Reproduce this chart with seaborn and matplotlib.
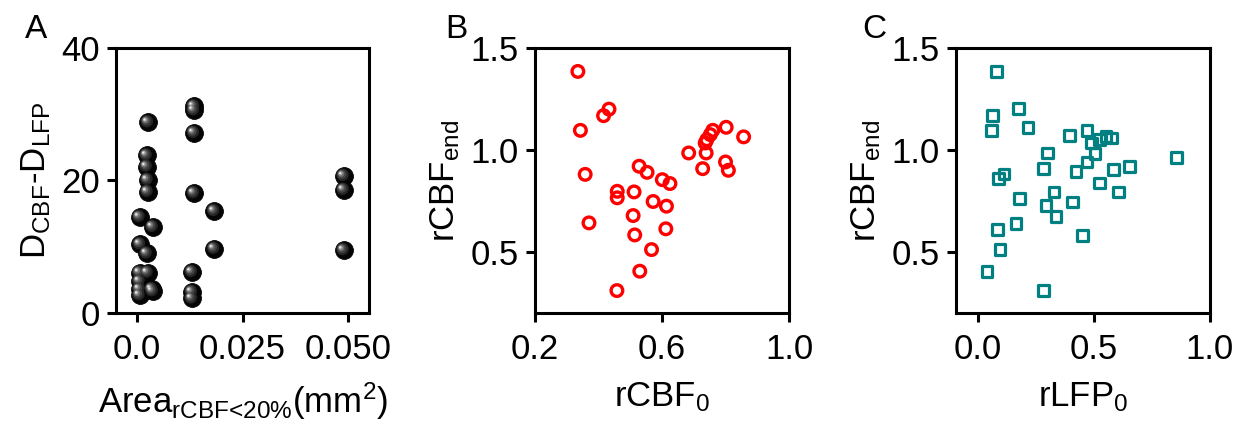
import numpy as np
import pandas as pd
import matplotlib
matplotlib.use("Agg")
import matplotlib.pyplot as plt
from matplotlib.markers import MarkerStyle
from matplotlib.transforms import Affine2D
import seaborn as sns

# ---------------- data ----------------
area_A = [0.0135, 0.0135, 0.0135, 0.0026, 0.0023, 0.0023, 0.0025, 0.0025, 0.0135,
          0.0183, 0.0006, 0.0037, 0.0007, 0.0023, 0.0183, 0.0006, 0.0025, 0.0130,
          0.0006, 0.0006, 0.0006, 0.0035, 0.0037, 0.0130, 0.0130, 0.0490, 0.0490, 0.0490]
ddiff_A = [31.2, 30.6, 27.2, 28.8, 23.8, 22.1, 20.1, 18.3, 18.1,
           15.4, 14.5, 13.0, 10.4, 9.0, 9.7, 6.1, 6.1, 6.2,
           4.8, 3.6, 2.7, 3.6, 3.3, 3.2, 2.2, 20.7, 18.6, 9.5]

rcbf0_B = [0.335, 0.433, 0.416, 0.343, 0.358, 0.370, 0.459, 0.459, 0.512, 0.528,
           0.553, 0.601, 0.625, 0.572, 0.614, 0.509, 0.514, 0.612, 0.567, 0.530,
           0.458, 0.684, 0.728, 0.739, 0.736, 0.741, 0.752, 0.760, 0.802, 0.857,
           0.800, 0.809]
rcbfend_B = [1.385, 1.200, 1.168, 1.096, 0.880, 0.642, 0.797, 0.765, 0.794, 0.920,
             0.890, 0.854, 0.835, 0.747, 0.724, 0.678, 0.583, 0.613, 0.511, 0.405,
             0.310, 0.985, 0.908, 0.985, 1.034, 1.050, 1.075, 1.096, 1.111, 1.064,
             0.941, 0.900]

rlfp0_C = [0.082, 0.063, 0.060, 0.176, 0.216, 0.394, 0.470, 0.490, 0.523, 0.552,
           0.576, 0.505, 0.301, 0.282, 0.470, 0.423, 0.113, 0.089, 0.585, 0.652,
           0.523, 0.605, 0.328, 0.407, 0.294, 0.337, 0.179, 0.165, 0.086, 0.096,
           0.040, 0.282, 0.450, 0.856]
rcbfend_C = [1.385, 1.168, 1.096, 1.202, 1.109, 1.070, 1.095, 1.034, 1.050, 1.064,
             1.059, 0.982, 0.985, 0.908, 0.941, 0.894, 0.882, 0.858, 0.904, 0.920,
             0.838, 0.794, 0.794, 0.745, 0.727, 0.675, 0.763, 0.640, 0.609, 0.511,
             0.405, 0.310, 0.581, 0.962]

dfA = pd.DataFrame({"area": area_A, "ddiff": ddiff_A})
dfB = pd.DataFrame({"rcbf0": rcbf0_B, "rcbfend": rcbfend_B})
dfC = pd.DataFrame({"rlfp0": rlfp0_C, "rcbfend": rcbfend_C})

# ---------------- style ----------------
sns.set_style("ticks")
FONT = "Liberation Sans"
plt.rcParams["font.family"] = [FONT, "DejaVu Sans"]
plt.rcParams["mathtext.fontset"] = "custom"
plt.rcParams["mathtext.rm"] = FONT
plt.rcParams["mathtext.it"] = FONT
plt.rcParams["mathtext.default"] = "regular"
for k in ["text.color", "axes.labelcolor", "xtick.color", "ytick.color",
          "axes.edgecolor"]:
    plt.rcParams[k] = "black"

FS = 25
LW = 2.2

fig = plt.figure(figsize=(12.41, 4.30), dpi=100)
axA = fig.add_axes([0.0935, 0.2721, 0.2039, 0.6163])
axB = fig.add_axes([0.4311, 0.2721, 0.2047, 0.6163])
axC = fig.add_axes([0.7701, 0.2721, 0.2049, 0.6163])


def style_axes(ax):
    for s in ax.spines.values():
        s.set_linewidth(LW)
        s.set_color("black")
        s.set_visible(True)
    ax.tick_params(axis="both", direction="out", length=6.5, width=LW,
                   labelsize=FS, colors="black", pad=5)
    ax.tick_params(axis="x", pad=8)


# ---- Panel A: shaded spheres ----
S_A = 165
base = MarkerStyle("o")
sns.scatterplot(data=dfA, x="area", y="ddiff", ax=axA, marker=base, s=S_A,
                color="#050505", edgecolor="#000000", linewidth=0.6, zorder=3)
layers = [("#262626", 0.70, -0.07, 0.06),
          ("#444444", 0.52, -0.11, 0.09),
          ("#707070", 0.36, -0.15, 0.12),
          ("#a8a8a8", 0.22, -0.18, 0.14),
          ("#eeeeee", 0.11, -0.20, 0.15)]
for col, sc, dx, dy in layers:
    m = MarkerStyle("o", transform=Affine2D().scale(sc).translate(dx, dy))
    sns.scatterplot(data=dfA, x="area", y="ddiff", ax=axA, marker=m, s=S_A,
                    color=col, edgecolor="none", linewidth=0, zorder=4)
axA.set_xlim(-0.005, 0.055)
axA.set_ylim(0, 40)
axA.set_xticks([0.0, 0.025, 0.05])
axA.set_xticklabels(["0.0", "0.025", "0.050"])
axA.set_yticks([0, 20, 40])
axA.set_xlabel(r"Area$_{\text{rCBF<20%}}$(mm$^{2}$)", fontsize=FS, labelpad=10)
axA.set_ylabel(r"D$_{CBF}$-D$_{LFP}$", fontsize=FS, labelpad=6)
style_axes(axA)

# ---- Panel B: red open circles ----
sns.scatterplot(data=dfB, x="rcbf0", y="rcbfend", ax=axB, marker="o", s=70,
                color="red", edgecolor="red", linewidth=2.4, zorder=3)
axB.collections[-1].set_facecolor("none")
axB.set_xlim(0.2, 1.0)
axB.set_ylim(0.2, 1.5)
axB.set_xticks([0.2, 0.6, 1.0])
axB.set_xticklabels(["0.2", "0.6", "1.0"])
axB.set_yticks([0.5, 1.0, 1.5])
axB.set_yticklabels(["0.5", "1.0", "1.5"])
axB.set_xlabel(r"rCBF$_{0}$", fontsize=FS, labelpad=10)
axB.set_ylabel(r"rCBF$_{end}$", fontsize=FS, labelpad=6)
style_axes(axB)

# ---- Panel C: teal open squares ----
sns.scatterplot(data=dfC, x="rlfp0", y="rcbfend", ax=axC, marker="s", s=60,
                color="#008080", edgecolor="#008080", linewidth=2.3, zorder=3)
axC.collections[-1].set_facecolor("none")
axC.set_xlim(-0.095, 1.0)
axC.set_ylim(0.2, 1.5)
axC.set_xticks([0.0, 0.5, 1.0])
axC.set_xticklabels(["0.0", "0.5", "1.0"])
axC.set_yticks([0.5, 1.0, 1.5])
axC.set_yticklabels(["0.5", "1.0", "1.5"])
axC.set_xlabel(r"rLFP$_{0}$", fontsize=FS, labelpad=10)
axC.set_ylabel(r"rCBF$_{end}$", fontsize=FS, labelpad=6)
style_axes(axC)

# panel letters
for xl, lab in [(0.020, "A"), (0.359, "B"), (0.695, "C")]:
    fig.text(xl, 0.9116, lab, fontsize=24, ha="left", va="baseline")

fig.savefig("out.png", dpi=100)
